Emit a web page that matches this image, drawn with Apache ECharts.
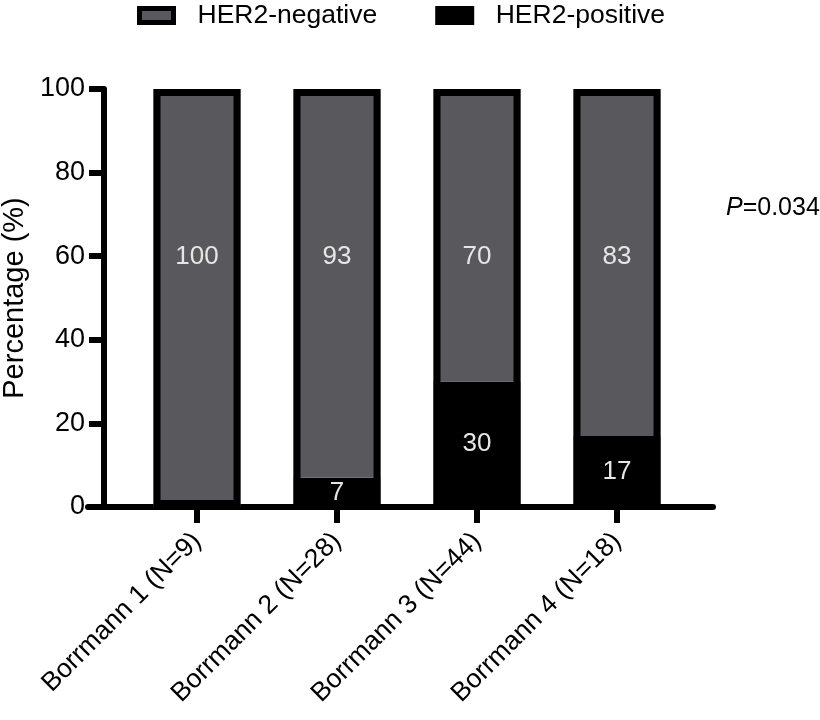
<!DOCTYPE html>
<html>
<head>
<meta charset="utf-8">
<script src="https://cdn.jsdelivr.net/npm/echarts@6/dist/echarts.min.js"></script>
<style>html,body{margin:0;padding:0;background:#fff}#c{width:820px;height:720px}</style>
</head>
<body>
<div id="c"></div>
<script>
var categories = ['Borrmann 1 (N=9)', 'Borrmann 2 (N=28)', 'Borrmann 3 (N=44)', 'Borrmann 4 (N=18)'];
var her2Negative = [100, 93, 70, 83];
var her2Positive = [0, 7, 30, 17];
var yTicks = [0, 20, 40, 60, 80, 100];
var pValueText = '0.034';

var totals = her2Negative.map(function (v, i) { return v + her2Positive[i]; });

var FONT = "'Liberation Sans', Arial, Helvetica, sans-serif";
var chart = echarts.init(document.getElementById('c'));
chart.setOption({
  animation: false,
  backgroundColor: '#fff',
  textStyle: { fontFamily: FONT },
  title: {
    text: '{i|P}=' + pValueText,
    left: 721, top: 191,
    textStyle: {
      fontFamily: FONT, fontSize: 25, fontWeight: 'normal', color: '#000',
      rich: { i: { fontFamily: FONT, fontSize: 25, fontStyle: 'italic', color: '#000' } }
    }
  },
  legend: {
    data: ['HER2-negative', 'HER2-positive'],
    left: 137, top: 2, padding: 0,
    icon: 'rect',
    itemWidth: 34, itemHeight: 14,
    itemGap: 58,
    itemStyle: { borderColor: '#000', borderWidth: 5 },
    textStyle: { fontFamily: FONT, fontSize: 26.5, color: '#000', padding: [0, 0, 0, 19] }
  },
  grid: [
    { left: 127, right: 133, top: 89, bottom: 213, containLabel: false, outerBoundsMode: 'none' },
    { left: 88, right: 107, top: 89, bottom: 213, containLabel: false, outerBoundsMode: 'none' }
  ],
  xAxis: [
    {
      type: 'category', gridIndex: 0, data: categories,
      axisLine: { show: true, lineStyle: { color: '#000', width: 6 } },
      axisTick: { show: true, alignWithLabel: true, length: 16, lineStyle: { color: '#000', width: 6 } },
      axisLabel: { rotate: 45, margin: 30, fontFamily: FONT, fontSize: 26.5, color: '#000', interval: 0 },
      splitLine: { show: false }
    },
    {
      type: 'value', gridIndex: 1, min: 0, max: 1,
      axisLine: { show: true, lineStyle: { color: '#000', width: 6 } },
      axisTick: { show: false }, axisLabel: { show: false }, splitLine: { show: false }
    }
  ],
  yAxis: [
    {
      type: 'value', gridIndex: 0, min: 0, max: 100, interval: 20,
      offset: 23,
      name: 'Percentage (%)', nameLocation: 'middle', nameGap: 74,
      nameTextStyle: { fontFamily: FONT, fontSize: 29, color: '#000' },
      axisLine: { show: true, lineStyle: { color: '#000', width: 6 } },
      axisTick: { show: true, length: 15, lineStyle: { color: '#000', width: 6 } },
      axisLabel: {
        fontFamily: FONT, fontSize: 27, color: '#000', margin: 19,
        formatter: function (v) { return yTicks.indexOf(v) >= 0 ? String(v) : ''; }
      },
      splitLine: { show: false }
    },
    {
      type: 'value', gridIndex: 1, min: 0, max: 1, show: false
    }
  ],
  series: [
    {
      name: 'HER2-positive', type: 'bar', stack: 'total',
      xAxisIndex: 0, yAxisIndex: 0,
      data: her2Positive, barWidth: 87,
      itemStyle: { color: '#000' },
      label: {
        show: true, position: 'inside', fontFamily: FONT, fontSize: 26, color: '#e6e6e6',
        formatter: function (p) { return p.value > 0 ? String(p.value) : ''; }
      },
      z: 2
    },
    {
      name: 'HER2-negative', type: 'bar', stack: 'total',
      xAxisIndex: 0, yAxisIndex: 0,
      data: her2Negative, barWidth: 87,
      itemStyle: { color: '#59595d' },
      label: {
        show: true, position: 'insideTop', distance: 155, fontFamily: FONT, fontSize: 26, color: '#e6e6e6'
      },
      z: 2
    },
    {
      name: 'outline', type: 'bar',
      xAxisIndex: 0, yAxisIndex: 0,
      data: totals, barWidth: 87, barGap: '-100%',
      itemStyle: { color: 'rgba(0,0,0,0)', borderColor: '#000', borderWidth: 7 },
      label: { show: false },
      silent: true,
      z: 3
    }
  ]
});
</script>
</body>
</html>
